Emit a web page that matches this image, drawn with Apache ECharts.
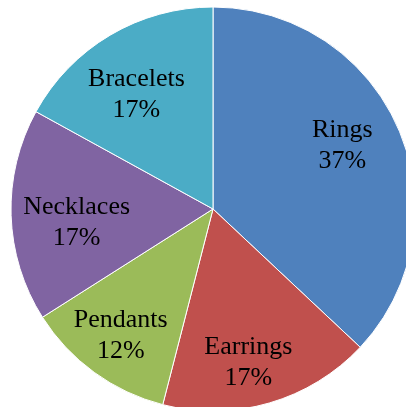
<!DOCTYPE html>
<html>
<head>
<meta charset="utf-8">
<script src="https://cdn.jsdelivr.net/npm/echarts@6/dist/echarts.min.js"></script>
<style>
  html, body { margin: 0; padding: 0; background: #fff; }
  #chart { width: 406px; height: 407px; }
</style>
</head>
<body>
<div id="chart"></div>
<script>
// Jewellery sales share by category
const categories = ['Rings', 'Earrings', 'Pendants', 'Necklaces', 'Bracelets'];
const shares = [37, 17, 12, 17, 17];
const colors = ['#4F81BD', '#C0504D', '#9BBB59', '#8064A2', '#4BACC6'];

// small per-slice label nudges (pixels)
const labelNudge = [[-7, -4], [-6, 11], [-5, 7], [12, 9], [-1, 13]];

const chart = echarts.init(document.getElementById('chart'), null, { renderer: 'canvas' });
const R = 202;
chart.setOption({
  animation: false,
  series: [
    {
      // coloured slices
      type: 'pie',
      center: [213, 209],
      radius: [0, R],
      startAngle: 90,
      clockwise: true,
      silent: true,
      label: { show: false },
      labelLine: { show: false },
      itemStyle: { borderColor: '#ffffff', borderWidth: 1 },
      data: categories.map((name, i) => ({
        name: name,
        value: shares[i],
        itemStyle: { color: colors[i] }
      }))
    },
    {
      // transparent ring used only to place the labels further out
      type: 'pie',
      center: [213, 209],
      radius: [R * 0.44, R],
      startAngle: 90,
      clockwise: true,
      silent: true,
      itemStyle: { color: 'rgba(0,0,0,0)', borderWidth: 0 },
      label: {
        show: true,
        position: 'inside',
        formatter: '{b}\n{c}%',
        fontFamily: '"Liberation Serif", "Times New Roman", serif',
        fontSize: 26,
        lineHeight: 31,
        color: '#000'
      },
      labelLine: { show: false },
      data: categories.map((name, i) => ({
        name: name,
        value: shares[i],
        label: { offset: labelNudge[i] }
      }))
    }
  ]
});
</script>
</body>
</html>
